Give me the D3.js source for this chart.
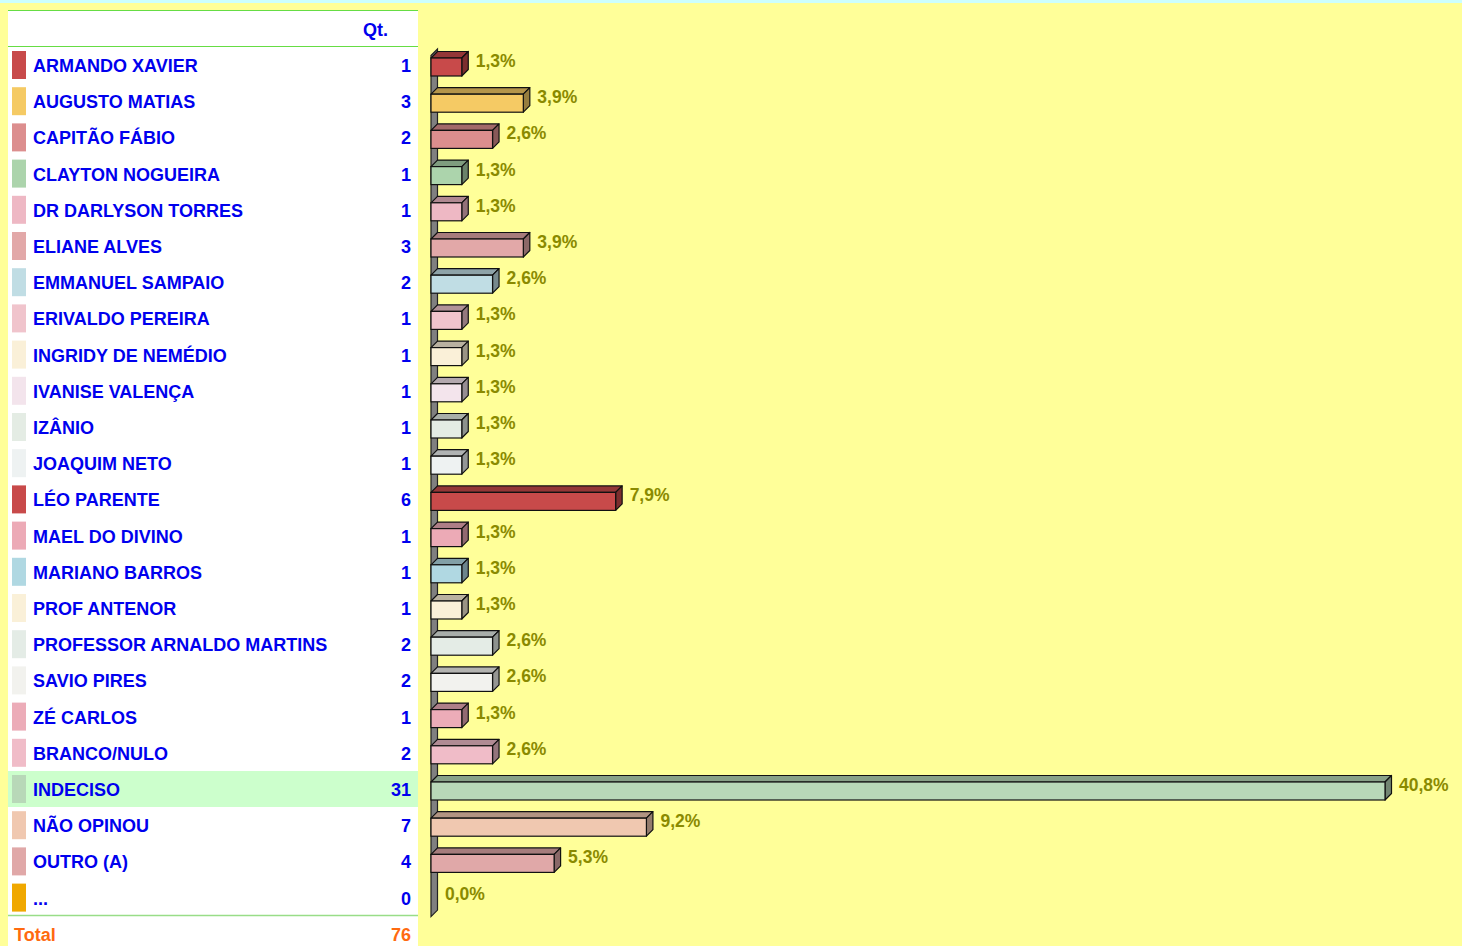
<!DOCTYPE html>
<html>
<head>
<meta charset="utf-8">
<script src="https://cdn.jsdelivr.net/npm/d3@7"></script>
<style>
  html, body { margin: 0; padding: 0; background: #ffff99; }
  svg { display: block; }
  text { font-family: "Liberation Sans", Arial, sans-serif; font-weight: bold; }
</style>
</head>
<body>
<svg id="chart" width="1462" height="946"></svg>
<script>
// Candidates, vote counts and swatch colours
const names = [
  "ARMANDO XAVIER", "AUGUSTO MATIAS", "CAPITÃO FÁBIO", "CLAYTON NOGUEIRA",
  "DR DARLYSON TORRES", "ELIANE ALVES", "EMMANUEL SAMPAIO", "ERIVALDO PEREIRA",
  "INGRIDY DE NEMÉDIO", "IVANISE VALENÇA", "IZÂNIO", "JOAQUIM NETO",
  "LÉO PARENTE", "MAEL DO DIVINO", "MARIANO BARROS", "PROF ANTENOR",
  "PROFESSOR ARNALDO MARTINS", "SAVIO PIRES", "ZÉ CARLOS", "BRANCO/NULO",
  "INDECISO", "NÃO OPINOU", "OUTRO (A)", "..."
];
const counts = [1, 3, 2, 1, 1, 3, 2, 1, 1, 1, 1, 1, 6, 1, 1, 1, 2, 2, 1, 2, 31, 7, 4, 0];
const colors = [
  "#c84a4a", "#f5ca64", "#dc8e8e", "#acd4ac",
  "#eeb8c4", "#e2a8a8", "#c0dde4", "#f0c4cc",
  "#faf0d8", "#f3e4ec", "#e4ece4", "#eef2f2",
  "#c84a4a", "#ecaab6", "#b0d8e2", "#faf0d8",
  "#e4ece6", "#f2f2ee", "#ecacb8", "#f0bcc8",
  "#b8d8b8", "#f0c8b0", "#e0a8a8", "#f0a800"
];
const highlighted = "INDECISO";
const headerLabel = "Qt.";
const totalLabel = "Total";

const total = d3.sum(counts);
const pct = counts.map(c => c / total * 100);
const fmtPct = v => d3.format(".1f")(v).replace(".", ",") + "%";

const svg = d3.select("#chart");
const W = 1462, H = 946;

// background
svg.append("rect").attr("width", W).attr("height", H).attr("fill", "#ffff99");
svg.append("rect").attr("width", W).attr("height", 3).attr("fill", "#ccffff");

// ---- table on the left ----
const rowY = d3.scalePoint().domain(names).range([65, 65 + 23 * 36.2]);
const tblX0 = 8, tblX1 = 418;

svg.append("rect").attr("x", tblX0).attr("y", 10).attr("width", tblX1 - tblX0).attr("height", H - 10)
  .attr("fill", "#ffffff");

svg.append("rect")
  .attr("x", tblX0).attr("y", rowY(highlighted) - 18)
  .attr("width", tblX1 - tblX0).attr("height", 36)
  .attr("fill", "#ccffcc");

[10.5, 46.5].forEach(y => svg.append("line")
  .attr("x1", tblX0).attr("x2", tblX1).attr("y1", y).attr("y2", y)
  .attr("stroke", "#66dd44").attr("stroke-width", 1.2));
svg.append("line").attr("x1", tblX0).attr("x2", tblX1).attr("y1", 915.5).attr("y2", 915.5)
  .attr("stroke", "#99dd88").attr("stroke-width", 1.5);

svg.append("text").attr("x", 388).attr("y", 36).attr("text-anchor", "end")
  .attr("font-size", 18).attr("fill", "#0000ee").text(headerLabel);

const rows = svg.append("g").selectAll("g").data(names).join("g")
  .attr("transform", d => `translate(0,${rowY(d)})`);
rows.append("rect").attr("x", 12).attr("y", -14).attr("width", 14).attr("height", 28)
  .attr("fill", (d, i) => colors[i]);
rows.append("text").attr("x", 33).attr("y", 7).attr("font-size", 18)
  .attr("fill", "#0000ee").text(d => d);
rows.append("text").attr("x", 411).attr("y", 7).attr("text-anchor", "end").attr("font-size", 18)
  .attr("fill", "#0000ee").text((d, i) => counts[i]);

svg.append("text").attr("x", 14).attr("y", 941).attr("font-size", 18)
  .attr("fill", "#ff6a10").text(totalLabel);
svg.append("text").attr("x", 411).attr("y", 941).attr("text-anchor", "end").attr("font-size", 18)
  .attr("fill", "#ff6a10").text(total);

// ---- 3D bar chart ----
const x = d3.scaleLinear().domain([0, d3.max(pct)]).range([431, 1385]);
const barY = d3.scalePoint().domain(names).range([67, 67 + 23 * 36.2]);
const depth = 6.5, halfH = 9;

// axis wall
const wy0 = barY(names[0]) - halfH - depth - 2.5;
const wy1 = barY(names[names.length - 1]) + halfH + 8;
svg.append("path")
  .attr("d", `M${x(0)},${wy0 + depth}L${x(0) + depth},${wy0}L${x(0) + depth},${wy1 - depth}L${x(0)},${wy1}Z`)
  .attr("fill", "#808080").attr("stroke", "#222").attr("stroke-width", 1.2);

const bars = svg.append("g").selectAll("g").data(names).join("g")
  .attr("transform", d => `translate(0,${barY(d)})`);

bars.each(function (d, i) {
  const g = d3.select(this);
  if (counts[i] === 0) return;
  const x0 = x(0), x1 = x(pct[i]);
  const c = d3.color(colors[i]);
  const top = -halfH, bot = halfH;
  g.append("path")
    .attr("d", `M${x0},${top}L${x0 + depth},${top - depth}L${x1 + depth},${top - depth}L${x1},${top}Z`)
    .attr("fill", c.darker(0.85)).attr("stroke", "#111").attr("stroke-width", 1.2)
    .attr("stroke-linejoin", "round");
  g.append("path")
    .attr("d", `M${x1},${top}L${x1 + depth},${top - depth}L${x1 + depth},${bot - depth}L${x1},${bot}Z`)
    .attr("fill", c.darker(1.35)).attr("stroke", "#111").attr("stroke-width", 1.2)
    .attr("stroke-linejoin", "round");
  g.append("rect").attr("x", x0).attr("y", top).attr("width", x1 - x0).attr("height", bot - top)
    .attr("fill", colors[i]).attr("stroke", "#111").attr("stroke-width", 1.2);
});

bars.append("text")
  .attr("x", (d, i) => x(pct[i]) + depth + 7.5)
  .attr("y", 0)
  .attr("font-size", 17.5)
  .attr("fill", "#8a8a00")
  .text((d, i) => fmtPct(pct[i]));
</script>
</body>
</html>
